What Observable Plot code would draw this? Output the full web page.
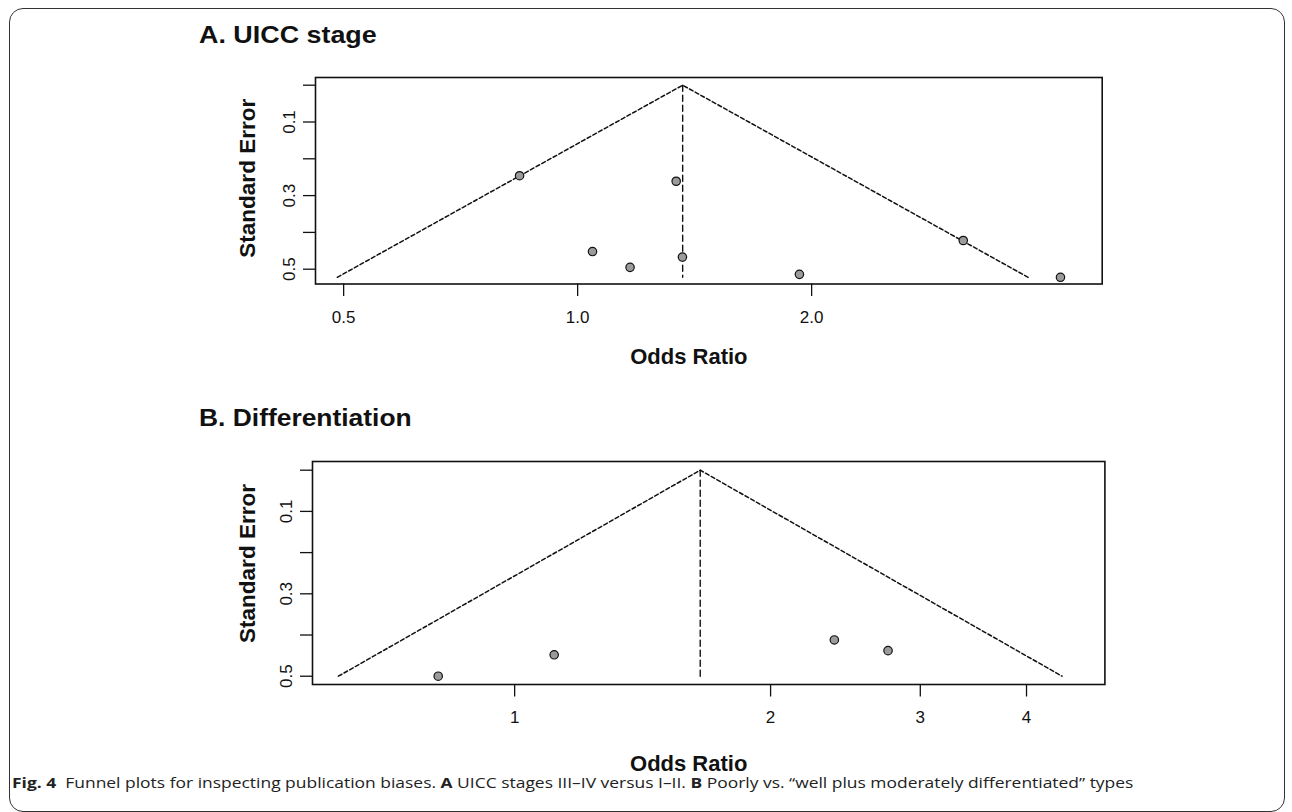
<!DOCTYPE html>
<html>
<head>
<meta charset="utf-8">
<script src="https://cdn.jsdelivr.net/npm/d3@7"></script>
<script src="https://cdn.jsdelivr.net/npm/@observablehq/plot@0.6"></script>
<style>
html, body { margin: 0; padding: 0; background: #fff; }
#fig { position: relative; width: 1292px; height: 812px; overflow: hidden; background: #fff;
       font-family: "Liberation Sans", Arial, sans-serif; color: #111; }
#border { position: absolute; left: 9px; top: 8px; width: 1276px; height: 804px;
          border: 1.3px solid #333; border-radius: 14px; box-sizing: border-box; }
.ptitle { position: absolute; left: 199px; font-weight: bold; font-size: 24px; line-height: 24px;
          white-space: nowrap; color: #111; transform-origin: 0 50%; }
#titleA { transform: scaleX(1.12); }
#titleB { transform: scaleX(1.10); }
.panel { position: absolute; left: 0; }
#caption { position: absolute; left: 12px; top: 775px; font-family: "Open Sans", sans-serif;
           font-size: 14px; line-height: 16px; white-space: nowrap; color: #222;
           transform: scaleX(1.245); transform-origin: 0 50%; }
</style>
</head>
<body>
<div id="fig">
  <div id="border"></div>
  <div class="ptitle" id="titleA" style="top:23px"></div>
  <div class="panel" id="panelA" style="top:0px"></div>
  <div class="ptitle" id="titleB" style="top:406px"></div>
  <div class="panel" id="panelB" style="top:380px"></div>
  <div id="caption"></div>
</div>
<script>
// ---- Data ----
// Panel A: UICC stage (odds ratio and standard error of each study)
const orA = [0.842, 1.045, 1.168, 1.339, 1.364, 1.929, 3.134, 4.18];
const seA = [0.246, 0.452, 0.495, 0.261, 0.467, 0.514, 0.422, 0.522];
const pooledA = 1.365;
// Panel B: Differentiation
const orB = [0.813, 1.113, 2.377, 2.749];
const seB = [0.500, 0.448, 0.412, 0.438];
const pooledB = 1.653;
// Axis ticks and labels
const xTicksA = [0.5, 1.0, 2.0];
const xTickLabelsA = ["0.5", "1.0", "2.0"];
const xTicksB = [1, 2, 3, 4];
const xTickLabelsB = ["1", "2", "3", "4"];
const yTicks = [0, 0.1, 0.2, 0.3, 0.4, 0.5];
const yTickLabels = ["", "0.1", "", "0.3", "", "0.5"];
const titles = ["A. UICC stage", "B. Differentiation"];
const xLabel = "Odds Ratio";
const yLabel = "Standard Error";
const captionHTML = "<b>Fig. 4</b>&nbsp; Funnel plots for inspecting publication biases. <b>A</b> UICC stages III–IV versus I–II. <b>B</b> Poorly vs. “well plus moderately differentiated” types";

function funnel(cfg) {
  const {or, se, pooled, xTicks, xTickLabels, xDomain, yDomain, height, margins,
         yLabelDx, yLabelDy, xLabelDx, xLabelDy} = cfg;
  const pts = or.map((o, i) => ({or: o, se: se[i]}));
  const seMax = d3.max(se);
  const lp = Math.log(pooled);
  const tri = [
    {or: Math.exp(lp - 1.96 * seMax), se: seMax},
    {or: pooled, se: 0},
    {or: Math.exp(lp + 1.96 * seMax), se: seMax}
  ];
  const vert = [{or: pooled, se: 0}, {or: pooled, se: seMax}];
  return Plot.plot({
    width: 1292,
    height,
    ...margins,
    style: {fontFamily: '"Liberation Sans", Arial, sans-serif', fontSize: "17px", color: "#111",
            background: "transparent", overflow: "visible"},
    x: {type: "log", domain: xDomain, axis: null},
    y: {domain: yDomain, reverse: true, axis: null},
    marks: [
      Plot.line(tri, {x: "or", y: "se", stroke: "#111", strokeWidth: 1.5, strokeDasharray: "4,2.5"}),
      Plot.line(vert, {x: "or", y: "se", stroke: "#111", strokeWidth: 1.4, strokeDasharray: "6,4"}),
      Plot.dot(pts, {x: "or", y: "se", r: 4.2, fill: "#9b9b9b", stroke: "#111", strokeWidth: 1.2}),
      Plot.frame({stroke: "#111", strokeWidth: 1.6}),
      Plot.axisX({ticks: xTicks, tickFormat: d => xTickLabels[xTicks.indexOf(d)], tickSize: 12.5,
                  tickPadding: 14, strokeWidth: 1.3, fontSize: 17, label: null}),
      Plot.axisY({ticks: yTicks, tickFormat: d => yTickLabels[yTicks.indexOf(d)], tickSize: 12,
                  tickPadding: 9, tickRotate: -90, strokeWidth: 1.3, fontSize: 17, label: null}),
      Plot.text([xLabel], {text: d => d, frameAnchor: "bottom", lineAnchor: "bottom", textAnchor: "middle",
                           dx: xLabelDx, dy: xLabelDy, fontWeight: "bold", fontSize: 22}),
      Plot.text([yLabel], {text: d => d, frameAnchor: "left", rotate: -90, textAnchor: "middle",
                           dx: yLabelDx, dy: yLabelDy, fontWeight: "bold", fontSize: 22.5})
    ]
  });
}

document.getElementById("titleA").textContent = titles[0];
document.getElementById("titleB").textContent = titles[1];
document.getElementById("caption").innerHTML = captionHTML;

document.getElementById("panelA").appendChild(funnel({
  or: orA, se: seA, pooled: pooledA,
  xTicks: xTicksA, xTickLabels: xTickLabelsA,
  xDomain: [0.460, 4.73], yDomain: [-0.0209, 0.5402],
  height: 380,
  margins: {marginLeft: 315, marginRight: 190.3, marginTop: 77, marginBottom: 96.5},
  yLabelDx: -68, yLabelDy: -2.5, xLabelDx: -20, xLabelDy: 79.5
}));

document.getElementById("panelB").appendChild(funnel({
  or: orB, se: seB, pooled: pooledB,
  xTicks: xTicksB, xTickLabels: xTickLabelsB,
  xDomain: [0.5784, 4.946], yDomain: [-0.0211, 0.5201],
  height: 432,
  margins: {marginLeft: 312, marginRight: 187.6, marginTop: 81, marginBottom: 128},
  yLabelDx: -65, yLabelDy: -9.5, xLabelDx: -20, xLabelDy: 86
}));
</script>
</body>
</html>
